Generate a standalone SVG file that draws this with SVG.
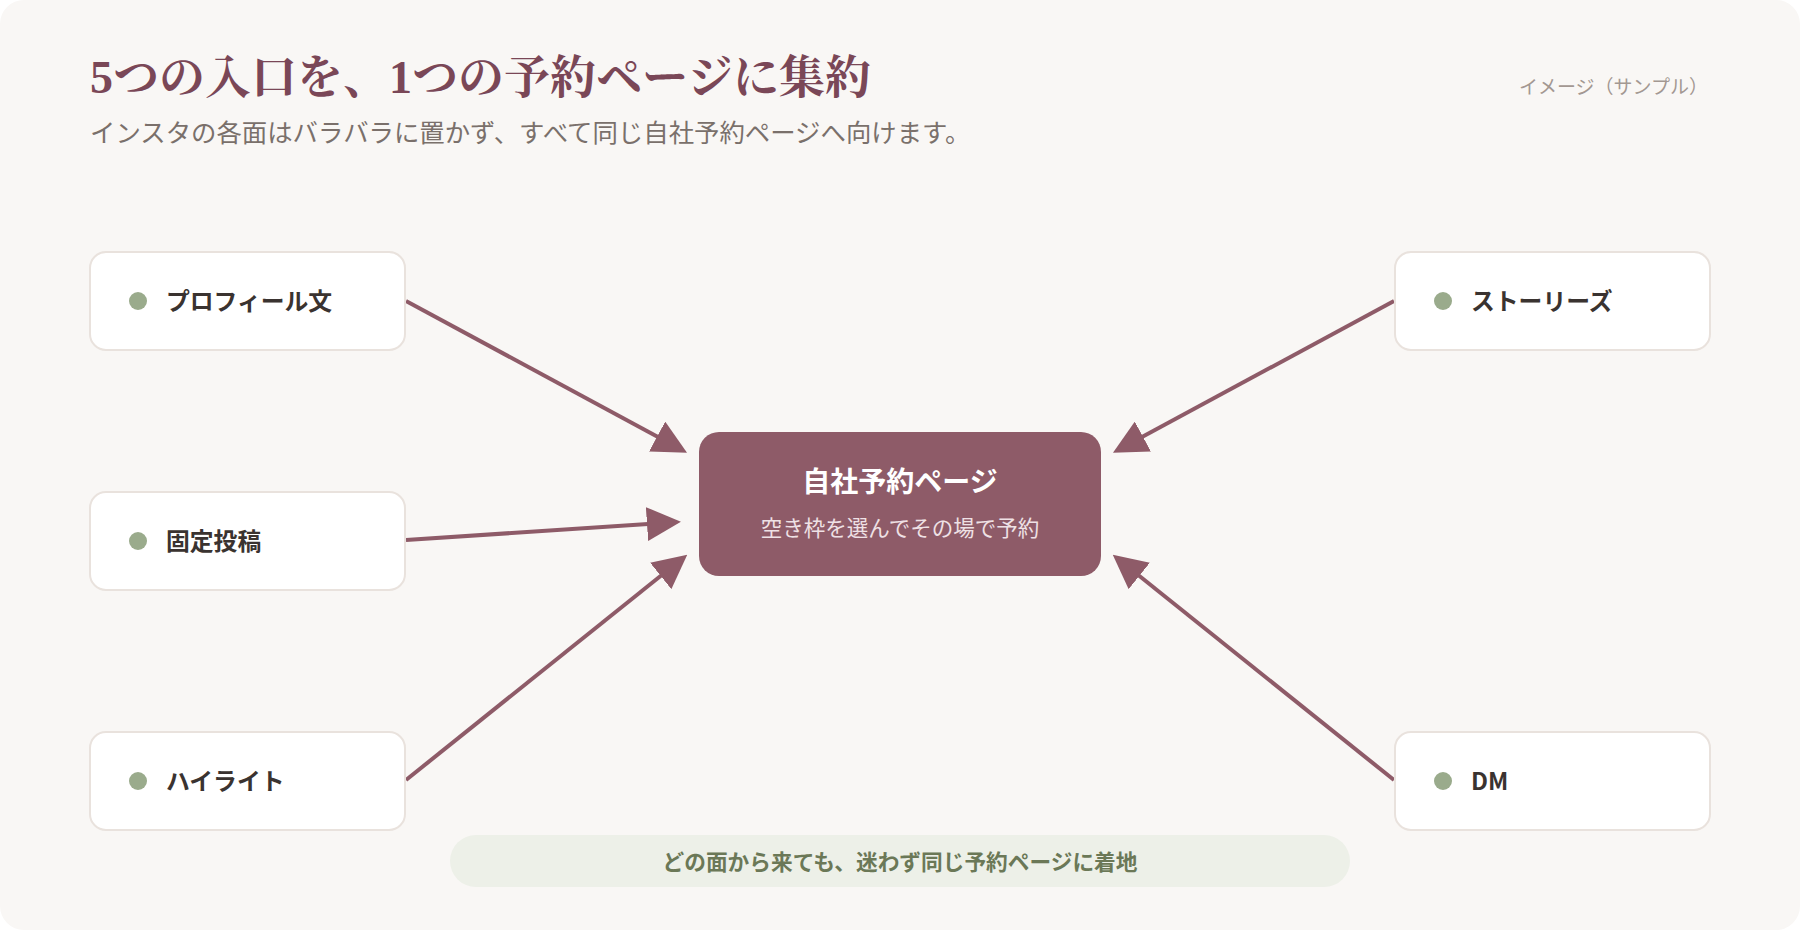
<svg xmlns="http://www.w3.org/2000/svg" width="1800" height="930" viewBox="0 0 1800 930">
  <defs>
    <style>
      .jp { font-family: "Noto Sans CJK JP", "Noto Sans", sans-serif; }
      .title { font-family: "Liberation Serif", "Noto Serif CJK JP", "Noto Sans CJK JP", serif; font-weight: 700; font-size: 46px; fill: #7a4757; }
      .sub { font-size: 25.4px; fill: #7a706b; }
      .tag { font-size: 19px; fill: #a39892; }
      .node rect { fill: #ffffff; stroke: #e9e2dd; stroke-width: 2; }
      .node circle { fill: #9aab8c; }
      .node text { font-size: 23.8px; font-weight: 700; fill: #3a3330; dominant-baseline: central; }
      .hub rect { fill: #8e5b68; }
      .hub .h1 { font-size: 28px; font-weight: 700; fill: #ffffff; text-anchor: middle; dominant-baseline: central; }
      .hub .h2 { font-size: 21.5px; fill: #efe1e5; text-anchor: middle; dominant-baseline: central; }
      .conn line { stroke: #8e5b68; stroke-width: 4; fill: none; }
      .note rect { fill: #edf0e8; }
      .note text { font-size: 21.7px; font-weight: 700; fill: #6b7857; text-anchor: middle; dominant-baseline: central; }
    </style>
    <marker id="arr" viewBox="0 0 34 34" refX="1" refY="17" markerWidth="34" markerHeight="34" markerUnits="userSpaceOnUse" orient="auto">
      <path d="M0,0 L34,17 L0,34 z" fill="#8e5b68"/>
    </marker>
  </defs>

  <rect x="0" y="0" width="1800" height="930" fill="#ffffff"/>
  <rect x="0" y="0" width="1800" height="930" rx="24" fill="#f9f7f5"/>

  <g id="header">
    <text class="title" x="90" y="93">5つの入口を、1つの予約ページに集約</text>
    <text class="jp sub" x="90" y="142">インスタの各面はバラバラに置かず、すべて同じ自社予約ページへ向けます。</text>
    <text class="jp tag" x="1708" y="85" text-anchor="end" dominant-baseline="central">イメージ（サンプル）</text>
  </g>

  <g id="connectors" class="conn">
    <line x1="406" y1="301" x2="658" y2="437" marker-end="url(#arr)"/>
    <line x1="406" y1="540" x2="648" y2="524" marker-end="url(#arr)"/>
    <line x1="406" y1="780" x2="661.5" y2="575.3" marker-end="url(#arr)"/>
    <line x1="1394" y1="301" x2="1142" y2="437" marker-end="url(#arr)"/>
    <line x1="1394" y1="780" x2="1138.5" y2="575.3" marker-end="url(#arr)"/>
  </g>

  <g id="node-profile" class="node jp">
    <rect x="90" y="252" width="315" height="98" rx="16"/>
    <circle cx="138" cy="301" r="9"/>
    <text x="166" y="299">プロフィール文</text>
  </g>
  <g id="node-pinned" class="node jp">
    <rect x="90" y="492" width="315" height="98" rx="16"/>
    <circle cx="138" cy="541" r="9"/>
    <text x="166" y="539">固定投稿</text>
  </g>
  <g id="node-highlight" class="node jp">
    <rect x="90" y="732" width="315" height="98" rx="16"/>
    <circle cx="138" cy="781" r="9"/>
    <text x="166" y="779">ハイライト</text>
  </g>
  <g id="node-stories" class="node jp">
    <rect x="1395" y="252" width="315" height="98" rx="16"/>
    <circle cx="1443" cy="301" r="9"/>
    <text x="1471" y="299">ストーリーズ</text>
  </g>
  <g id="node-dm" class="node jp">
    <rect x="1395" y="732" width="315" height="98" rx="16"/>
    <circle cx="1443" cy="781" r="9"/>
    <text x="1471" y="779">DM</text>
  </g>

  <g id="node-booking" class="hub jp">
    <rect x="699" y="432" width="402" height="144" rx="20"/>
    <text class="h1" x="900" y="480">自社予約ページ</text>
    <text class="h2" x="900" y="526">空き枠を選んでその場で予約</text>
  </g>

  <g id="note" class="note jp">
    <rect x="450" y="835" width="900" height="52" rx="26"/>
    <text x="900" y="860">どの面から来ても、迷わず同じ予約ページに着地</text>
  </g>
</svg>
